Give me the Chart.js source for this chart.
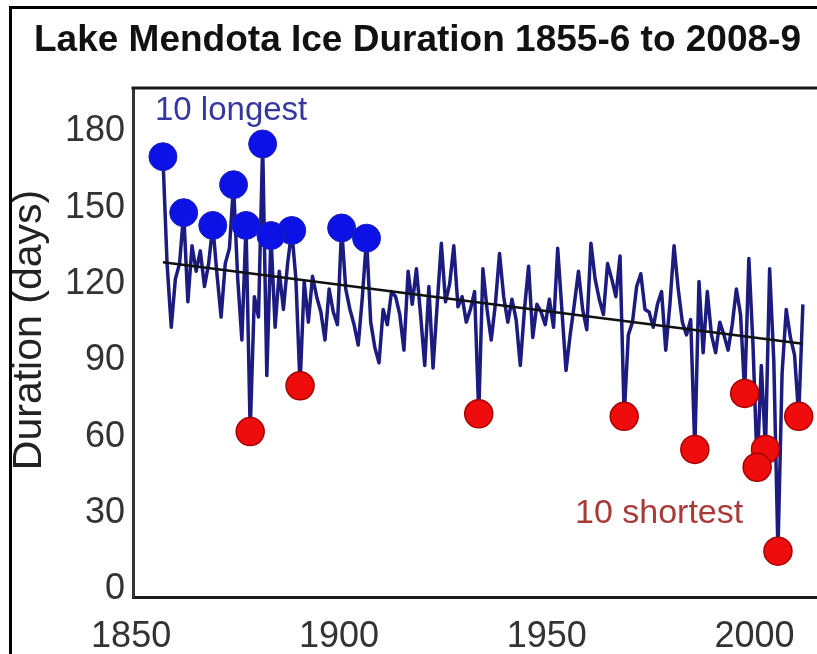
<!DOCTYPE html>
<html>
<head>
<meta charset="utf-8">
<script src="https://cdn.jsdelivr.net/npm/chart.js@4.4.1/dist/chart.umd.min.js"></script>
<style>
  html, body { margin: 0; padding: 0; background: #fff; }
  #wrap { position: relative; width: 817px; height: 654px; overflow: hidden; }
  #frame { position: absolute; left: 9px; top: 6px; width: 900px; height: 700px;
           border-left: 3px solid #000; border-top: 3px solid #000; pointer-events: none; }
</style>
</head>
<body>
<div id="wrap">
  <canvas id="ice-chart" width="817" height="654"></canvas>
  <div id="frame"></div>
</div>
<script>
// Winters 1855-56 ... 2009-10, one value per winter (days of ice cover)
const firstWinter = 1855;
const durations = [
  170, 128, 103, 122, 128, 148, 113, 135, 125, 133,   // 1855-1864
  119, 128, 143, 124, 107, 128, 134, 159, 122, 98,    // 1865-1874
  143, 62, 115, 107, 175, 84, 139, 103, 125, 110,     // 1875-1884
  128, 141, 122, 80, 121, 105, 123, 115, 109, 98,     // 1885-1894
  118, 109, 104, 142, 118, 110, 104, 96, 115, 138,    // 1895-1904
  105, 95, 89, 110, 104, 117, 115, 108, 94, 125,      // 1905-1914
  112, 126, 108, 88, 119, 87, 112, 136, 113, 120,     // 1915-1924
  135, 111, 115, 105, 110, 117, 69, 126, 110, 98,     // 1925-1934
  112, 132, 115, 105, 114, 106, 88, 110, 127, 99,     // 1935-1944
  112, 109, 104, 114, 103, 134, 110, 86, 100, 112,    // 1945-1954
  125, 110, 102, 136, 122, 114, 108, 128, 122, 115,   // 1955-1964
  131, 68, 100, 105, 119, 124, 110, 109, 103, 112,    // 1965-1974
  117, 94, 112, 135, 118, 105, 100, 106, 55, 121,     // 1975-1984
  93, 117, 100, 93, 105, 100, 94, 104, 118, 108,      // 1985-1994
  77, 130, 96, 48, 88, 55, 126, 90, 15, 85,           // 1995-2004
  110, 99, 92, 68, 112                                // 2005-2009
];

// linear trend, end points
const trendYears = [1855, 2009];
const trendValues = [128.5, 96.5];

const xTicks = [1850, 1900, 1950, 2000];
const yTicks = [0, 30, 60, 90, 120, 150, 180];

const points = durations.map((d, i) => ({ x: firstWinter + i, y: d }));

// rank winters to pick the 10 longest and 10 shortest
const ranked = durations.map((d, i) => i).sort((a, b) => durations[b] - durations[a]);
const longest = ranked.slice(0, 10).map(i => points[i]);
const shortest = ranked.slice(-10).map(i => points[i]);

const fontFamily = "'Liberation Sans', Arial, sans-serif";
Chart.defaults.font.family = fontFamily;

// top frame line of the plot, the y title and the two text notes
const notesPlugin = {
  id: "notes",
  afterDraw(chart) {
    const { ctx, chartArea } = chart;
    ctx.save();
    ctx.strokeStyle = "#1a1a1a";
    ctx.lineWidth = 3;
    ctx.beginPath();
    ctx.moveTo(chartArea.left - 1.5, chartArea.top);
    ctx.lineTo(chartArea.right, chartArea.top);
    ctx.stroke();

    ctx.textBaseline = "middle";
    ctx.font = "33px " + fontFamily;
    ctx.fillStyle = "#3636a0";
    ctx.fillText("10 longest", 155, 111);
    ctx.font = "34px " + fontFamily;
    ctx.fillStyle = "#a83a3a";
    ctx.fillText("10 shortest", 575, 514);

    // rotated axis title
    ctx.translate(30, 330);
    ctx.rotate(-Math.PI / 2);
    ctx.textAlign = "center";
    ctx.font = "41px " + fontFamily;
    ctx.fillStyle = "#222";
    ctx.fillText("Duration (days)", 0, 0);
    ctx.restore();
  }
};

const ctx = document.getElementById("ice-chart").getContext("2d");
window.chartInstance = new Chart(ctx, {
  type: "line",
  data: {
    datasets: [
      {
        label: "10 longest",
        data: longest,
        showLine: false,
        pointRadius: 14,
        pointBackgroundColor: "#0c12e6",
        pointBorderColor: "#2020b0",
        pointBorderWidth: 1,
        order: 0
      },
      {
        label: "10 shortest",
        data: shortest,
        showLine: false,
        pointRadius: 14,
        pointBackgroundColor: "#ee0c0c",
        pointBorderColor: "#a80000",
        pointBorderWidth: 1.5,
        order: 0
      },
      {
        label: "Trend",
        data: trendYears.map((yr, i) => ({ x: yr, y: trendValues[i] })),
        borderColor: "#111",
        borderWidth: 2.5,
        pointRadius: 0,
        order: 1
      },
      {
        label: "Duration",
        data: points,
        borderColor: "#1c1c80",
        borderWidth: 3.5,
        borderJoinStyle: "round",
        pointRadius: 0,
        tension: 0,
        order: 2
      }
    ]
  },
  options: {
    responsive: false,
    animation: false,
    layout: { autoPadding: false, padding: { left: 18, right: 0, top: 0, bottom: 0 } },
    plugins: {
      legend: { display: false },
      tooltip: { enabled: false },
      title: {
        display: true,
        text: "Lake Mendota Ice Duration 1855-6 to 2008-9",
        color: "#111",
        font: { size: 37, weight: "bold" },
        padding: { top: 19, bottom: 24.6 }
      }
    },
    scales: {
      x: {
        type: "linear",
        min: 1847.8,
        max: 2012.4,
        grid: { display: false, drawTicks: false },
        border: { display: true, color: "#1a1a1a", width: 3 },
        afterBuildTicks: s => { s.ticks = xTicks.map(v => ({ value: v })); },
        afterFit: s => { s.height = 57; s.paddingLeft = 0; s.paddingRight = 0; },
        ticks: {
          color: "#333",
          font: { size: 36 },
          padding: 18,
          labelOffset: -11,
          maxRotation: 0,
          callback: v => String(v)
        }
      },
      y: {
        min: -3,
        max: 197,
        grid: { display: false, drawTicks: false },
        border: { display: true, color: "#333", width: 3 },
        afterBuildTicks: s => { s.ticks = yTicks.map(v => ({ value: v })); },
        afterFit: s => { s.width = 115; s.paddingTop = 0; s.paddingBottom = 0; },
        ticks: { color: "#333", font: { size: 36 }, padding: 8 }
      }
    }
  },
  plugins: [notesPlugin]
});
</script>
</body>
</html>
